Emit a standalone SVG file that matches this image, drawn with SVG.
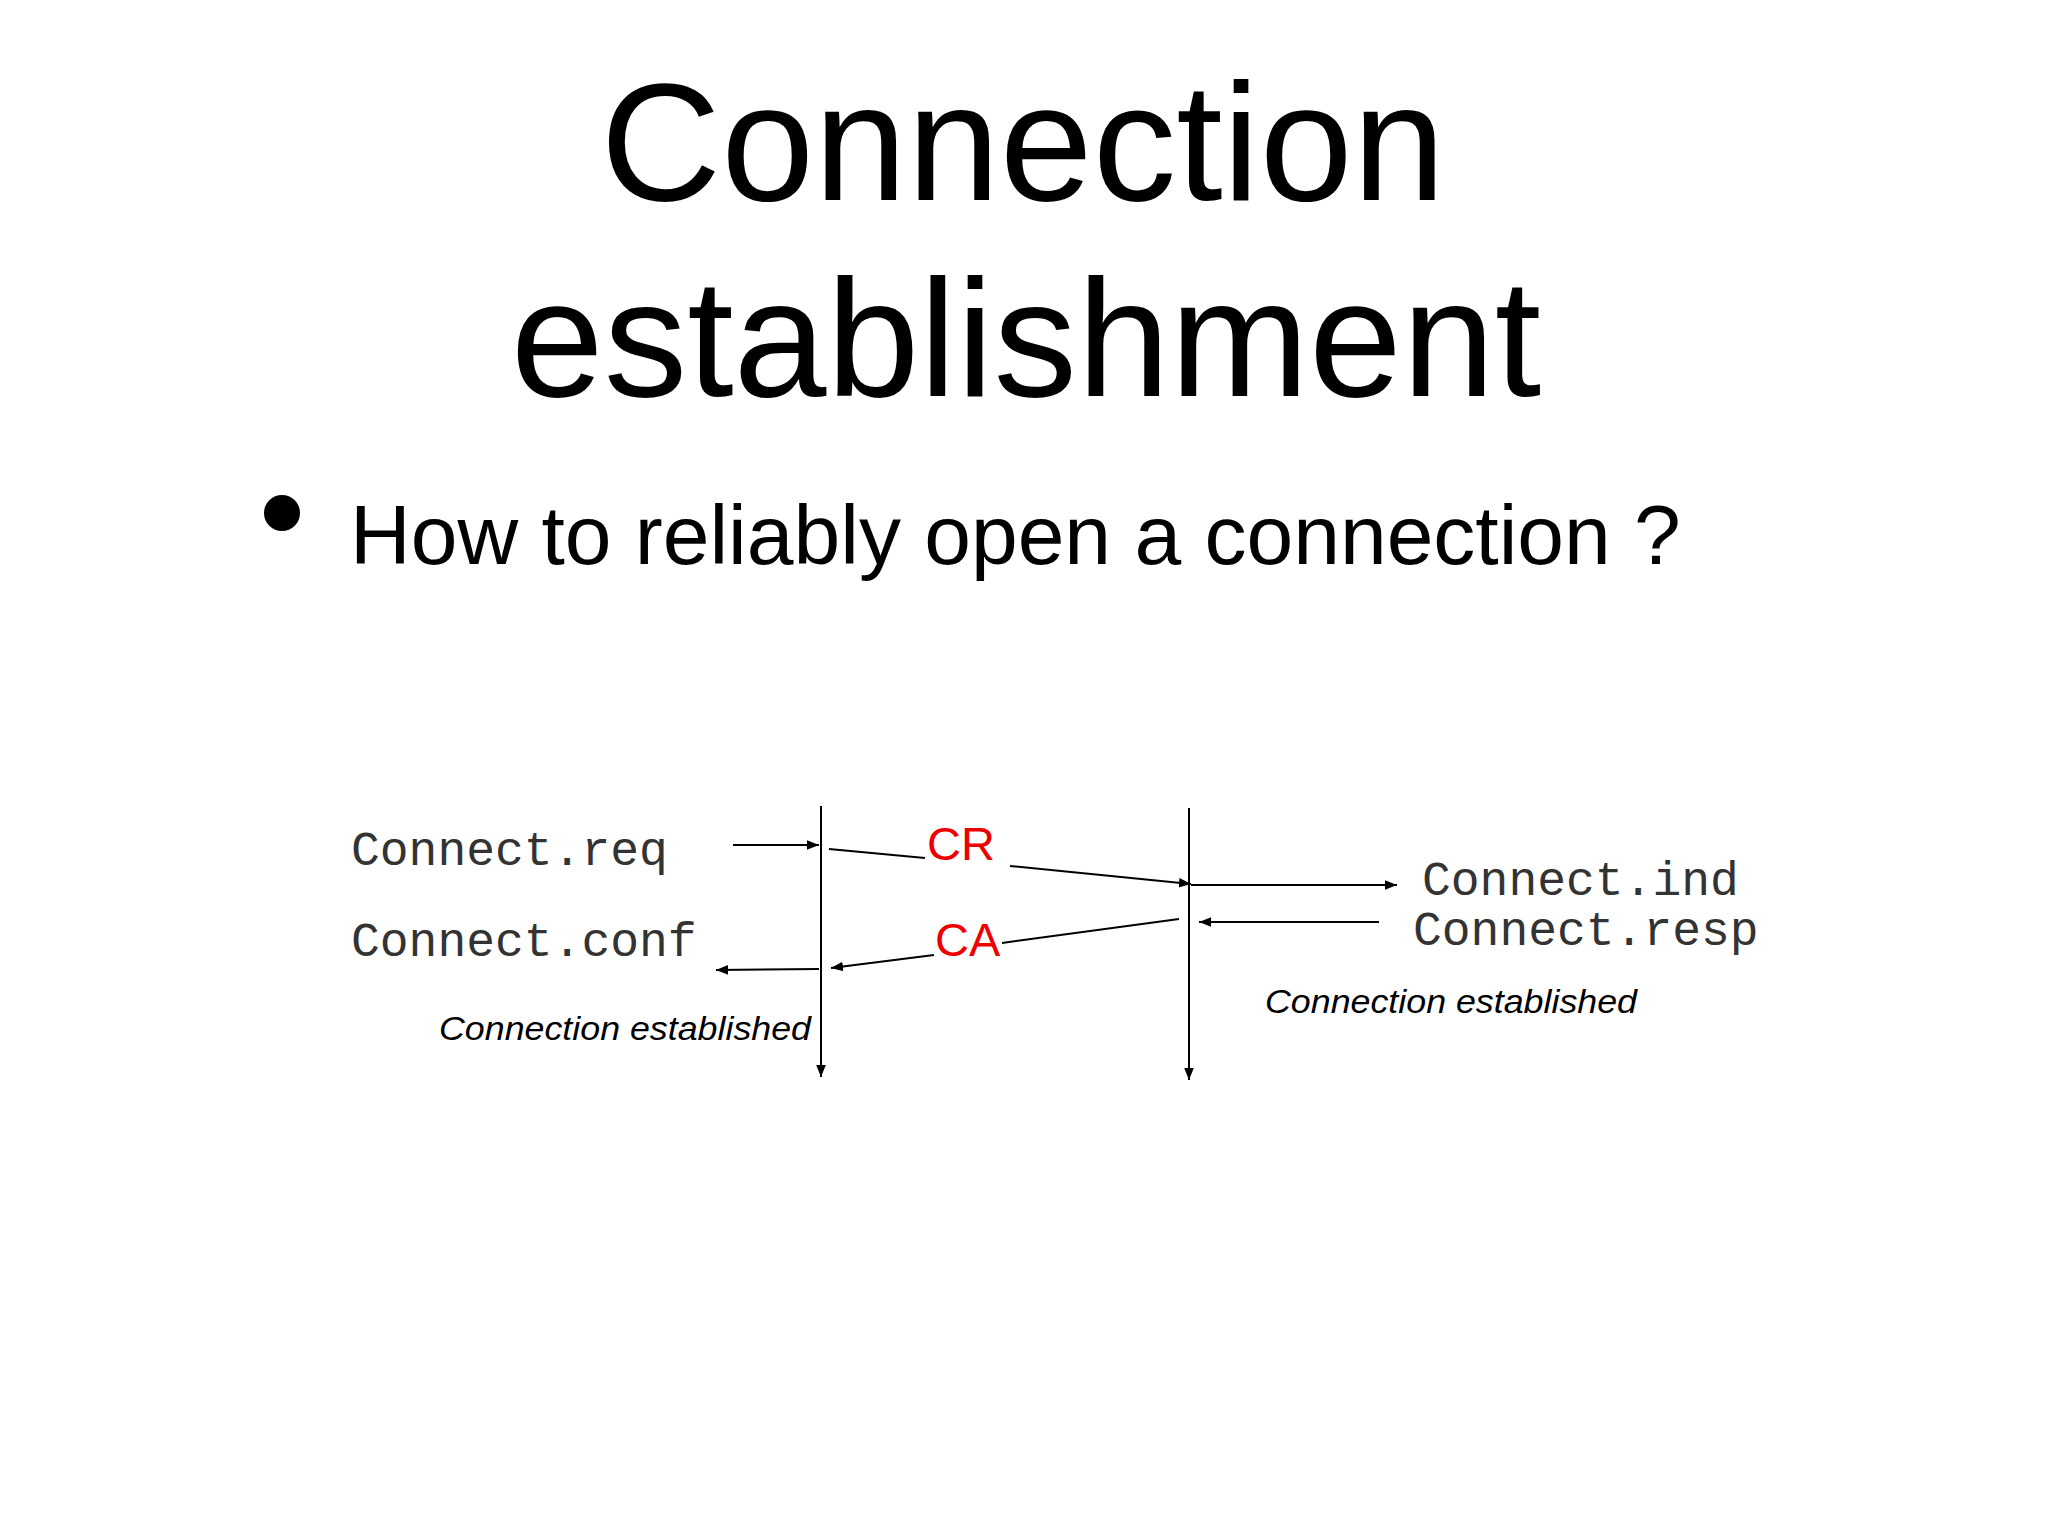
<svg xmlns="http://www.w3.org/2000/svg" width="2048" height="1536" viewBox="0 0 2048 1536">
<style>
.t{font-family:"Liberation Sans",Arial,sans-serif;fill:#000}
.m{font-family:"Liberation Mono","Courier New",monospace;font-size:48px;fill:#333}
.r{font-family:"Liberation Sans",Arial,sans-serif;font-size:47px;fill:#e00}
.i{font-family:"Liberation Sans",Arial,sans-serif;font-size:34px;font-style:italic;fill:#000}
line{stroke:#000;stroke-width:2}
</style>
<defs><marker id="a" viewBox="0 0 10 10" refX="10" refY="5" markerWidth="6" markerHeight="6" orient="auto"><path d="M0,1L10,5L0,9z" fill="#000"/></marker></defs>
<rect width="2048" height="1536" fill="#fff"/>
<text class="t" x="1023" y="200" font-size="167" text-anchor="middle">Connection</text>
<text class="t" x="1026" y="396" font-size="167" text-anchor="middle">establishment</text>
<circle cx="282" cy="513" r="18" fill="#000"/>
<text class="t" x="350" y="564" font-size="84">How to reliably open a connection ?</text>
<g id="labels">
<text class="m" x="351" y="865">Connect.req</text>
<text class="m" x="351" y="956">Connect.conf</text>
<text class="m" x="1422" y="895">Connect.ind</text>
<text class="m" x="1413" y="945">Connect.resp</text>
<text class="r" x="927" y="860">CR</text>
<text class="r" x="935" y="956">CA</text>
<text class="i" x="811" y="1040" text-anchor="end" textLength="372" lengthAdjust="spacingAndGlyphs">Connection established</text>
<text class="i" x="1265" y="1013" textLength="372" lengthAdjust="spacingAndGlyphs">Connection established</text>
</g>
<g id="connectors">
<line x1="821" y1="806" x2="821" y2="1077" marker-end="url(#a)"/>
<line x1="1189" y1="808" x2="1189" y2="1080" marker-end="url(#a)"/>
<line x1="733" y1="845" x2="819" y2="845" marker-end="url(#a)"/>
<line x1="829" y1="849" x2="925" y2="858"/>
<line x1="1010" y1="866" x2="1191" y2="884" marker-end="url(#a)"/>
<line x1="1191" y1="885" x2="1397" y2="885" marker-end="url(#a)"/>
<line x1="1379" y1="922" x2="1199" y2="922" marker-end="url(#a)"/>
<line x1="1179" y1="919" x2="1002" y2="943"/>
<line x1="934" y1="955" x2="831" y2="968" marker-end="url(#a)"/>
<line x1="819" y1="969" x2="716" y2="970" marker-end="url(#a)"/>
</g>
</svg>
